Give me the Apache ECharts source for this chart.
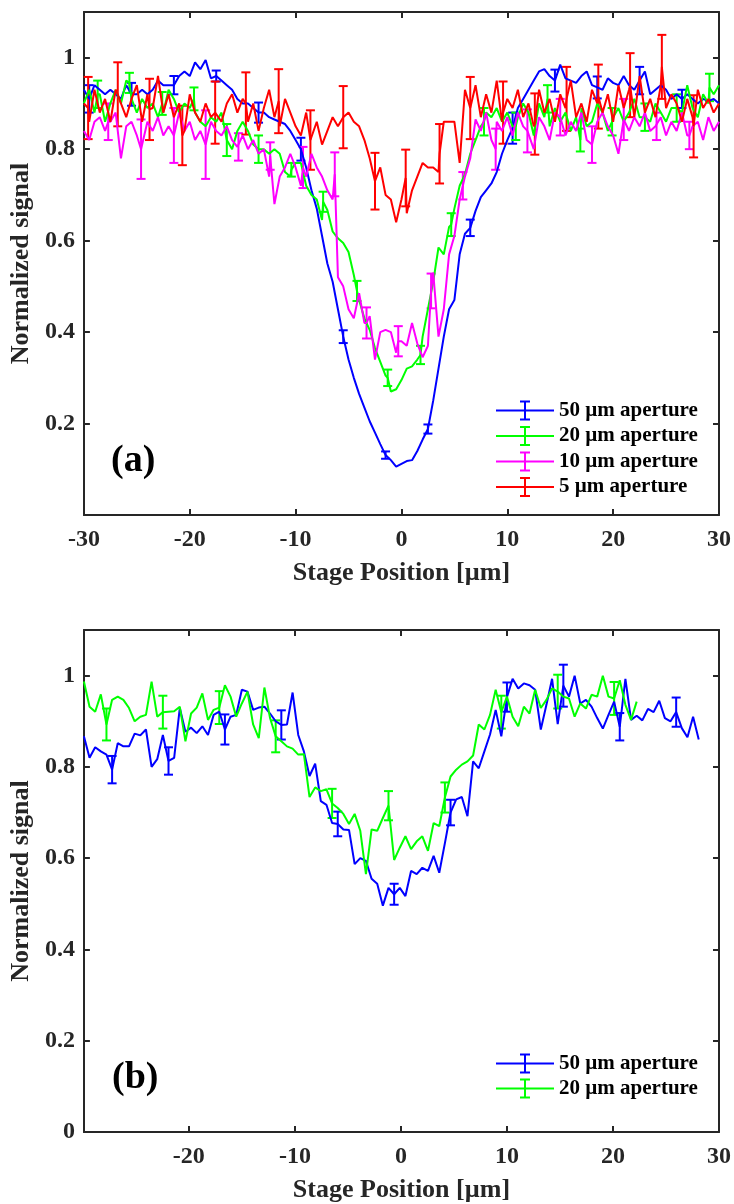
<!DOCTYPE html>
<html><head><meta charset="utf-8">
<script src="https://cdn.jsdelivr.net/npm/echarts@6/dist/echarts.min.js"></script>
<style>html,body{margin:0;padding:0;background:#fff}#c{width:734px;height:1204px}</style>
</head><body><div id="c"></div><script>
// ---------- Panel (a): samples every 0.5 µm from -30 to 30 ----------
const topX0 = -30, topStep = 0.5;
const topBlue = [
0.93,0.91,0.94,0.93,0.92,0.93,0.92,0.91,0.94,0.92,
0.92,0.93,0.92,0.93,0.95,0.94,0.94,0.94,0.96,0.97,
0.96,0.99,0.975,0.995,0.955,0.96,0.95,0.94,0.93,0.91,
0.90,0.90,0.89,0.88,0.88,0.87,0.865,0.86,0.855,0.84,
0.82,0.80,0.76,0.71,0.67,0.61,0.55,0.51,0.45,0.39,
0.34,0.30,0.265,0.235,0.205,0.18,0.155,0.131,0.12,0.106,
0.112,0.118,0.12,0.14,0.165,0.188,0.25,0.32,0.39,0.45,
0.47,0.57,0.615,0.628,0.665,0.695,0.71,0.725,0.75,0.79,
0.82,0.846,0.89,0.91,0.93,0.95,0.97,0.975,0.96,0.95,
0.985,0.955,0.95,0.945,0.96,0.97,0.94,0.935,0.93,0.955,
0.945,0.94,0.96,0.94,0.93,0.95,0.97,0.92,0.93,0.94,
0.93,0.91,0.92,0.91,0.92,0.91,0.90,0.91,0.905,0.91,
0.90];
const topGreen = [
0.90,0.93,0.88,0.92,0.86,0.90,0.93,0.90,0.95,0.91,
0.88,0.91,0.89,0.90,0.87,0.88,0.93,0.91,0.88,0.90,
0.89,0.88,0.86,0.85,0.87,0.86,0.88,0.83,0.80,0.84,
0.86,0.84,0.81,0.82,0.80,0.79,0.80,0.79,0.75,0.74,
0.77,0.77,0.72,0.70,0.69,0.645,0.667,0.62,0.605,0.595,
0.575,0.525,0.47,0.43,0.405,0.365,0.335,0.305,0.27,0.275,
0.295,0.32,0.325,0.34,0.39,0.45,0.51,0.585,0.57,0.63,
0.67,0.72,0.745,0.79,0.82,0.85,0.88,0.87,0.89,0.86,
0.88,0.85,0.87,0.90,0.88,0.83,0.90,0.87,0.85,0.89,
0.86,0.88,0.84,0.87,0.89,0.85,0.86,0.90,0.88,0.84,
0.87,0.89,0.86,0.88,0.91,0.87,0.89,0.86,0.90,0.88,
0.86,0.89,0.91,0.88,0.94,0.89,0.87,0.92,0.90,0.92,
0.94];
const topMagenta = [
0.84,0.82,0.86,0.87,0.84,0.86,0.88,0.78,0.85,0.86,
0.83,0.80,0.86,0.84,0.87,0.83,0.85,0.83,0.88,0.84,
0.86,0.82,0.84,0.81,0.86,0.84,0.83,0.85,0.82,0.805,
0.83,0.80,0.82,0.79,0.80,0.74,0.68,0.74,0.76,0.79,
0.76,0.72,0.74,0.79,0.76,0.74,0.71,0.69,0.52,0.50,
0.45,0.43,0.485,0.42,0.435,0.34,0.40,0.405,0.40,0.355,
0.38,0.37,0.42,0.375,0.345,0.37,0.53,0.39,0.45,0.57,
0.61,0.69,0.74,0.78,0.865,0.84,0.88,0.82,0.86,0.84,
0.87,0.83,0.88,0.85,0.84,0.80,0.87,0.85,0.82,0.88,
0.87,0.83,0.86,0.84,0.88,0.82,0.81,0.86,0.88,0.85,
0.83,0.79,0.865,0.84,0.87,0.85,0.88,0.84,0.85,0.87,
0.83,0.86,0.84,0.88,0.83,0.85,0.86,0.82,0.87,0.84,
0.86];
const topRed = [
0.90,0.86,0.93,0.88,0.91,0.86,0.93,0.90,0.87,0.91,
0.94,0.86,0.92,0.89,0.96,0.88,0.92,0.87,0.90,0.84,
0.92,0.88,0.86,0.90,0.87,0.88,0.86,0.90,0.92,0.88,
0.91,0.86,0.90,0.84,0.89,0.93,0.87,0.85,0.91,0.88,
0.85,0.83,0.88,0.82,0.86,0.81,0.84,0.87,0.85,0.86,
0.88,0.86,0.85,0.82,0.78,0.74,0.76,0.70,0.69,0.64,
0.69,0.66,0.71,0.74,0.77,0.76,0.76,0.75,0.86,0.86,
0.86,0.77,0.93,0.89,0.94,0.87,0.92,0.88,0.95,0.86,
0.91,0.89,0.93,0.87,0.90,0.85,0.93,0.88,0.91,0.86,
0.92,0.89,0.95,0.87,0.90,0.86,0.93,0.90,0.88,0.92,
0.86,0.94,0.89,0.93,0.87,0.96,0.88,0.91,0.87,0.94,
0.89,0.92,0.90,0.86,0.91,0.87,0.93,0.89,0.91,0.88,
0.90];
// error bars of panel (a): position, value, half-length
const topBlueErrX = [-29.5,-25.5,-21.5,-17.5,-13.5,-9.5,-5.5,-1.5,2.5,6.5,10.5,14.5,18.5,22.5,26.5];
const topBlueErrY = [0.91,0.92,0.94,0.96,0.88,0.80,0.39,0.131,0.188,0.628,0.846,0.95,0.935,0.95,0.91];
const topBlueErrH = [0.03,0.025,0.02,0.012,0.022,0.025,0.014,0.008,0.01,0.018,0.034,0.024,0.024,0.03,0.02];
const topGreenErrX = [-28.7,-25.7,-22.6,-19.6,-16.5,-13.5,-10.4,-7.4,-4.2,-1.3,1.8,4.7,7.8,10.8,13.8,16.9,19.9,23.0,26.0,29.1];
const topGreenErrY = [0.92,0.945,0.90,0.91,0.82,0.80,0.755,0.685,0.49,0.30,0.35,0.635,0.86,0.85,0.91,0.82,0.86,0.87,0.89,0.935];
const topGreenErrH = [0.03,0.022,0.025,0.025,0.035,0.03,0.015,0.022,0.022,0.018,0.02,0.025,0.03,0.03,0.03,0.025,0.03,0.03,0.03,0.03];
const topMagentaErrX = [-27.7,-24.6,-21.5,-18.5,-15.4,-12.4,-9.3,-6.3,-3.3,-0.3,2.8,5.8,8.9,11.9,15.0,18.0,21.0,24.1,27.2];
const topMagentaErrY = [0.86,0.80,0.83,0.81,0.805,0.785,0.76,0.745,0.42,0.38,0.49,0.72,0.80,0.84,0.87,0.81,0.865,0.85,0.83];
const topMagentaErrH = [0.04,0.065,0.06,0.075,0.03,0.03,0.045,0.048,0.034,0.033,0.038,0.03,0.045,0.047,0.04,0.04,0.045,0.03,0.03];
const topRedErrX = [-29.6,-26.8,-23.8,-20.7,-17.6,-14.7,-11.6,-8.6,-5.5,-2.5,0.4,3.6,6.5,9.6,12.6,15.6,18.6,21.6,24.6,27.6];
const topRedErrY = [0.89,0.92,0.887,0.83,0.88,0.90,0.905,0.82,0.87,0.73,0.737,0.79,0.89,0.88,0.855,0.91,0.915,0.94,0.98,0.85];
const topRedErrH = [0.068,0.07,0.067,0.065,0.068,0.068,0.07,0.065,0.068,0.062,0.062,0.065,0.068,0.068,0.067,0.07,0.07,0.07,0.07,0.068];

// ---------- Panel (b): samples every 0.532 µm from -29.9 ----------
const botX0 = -29.9, botStep = 0.532;
const botBlue = [
0.867,0.82,0.843,0.834,0.827,0.794,0.852,0.845,0.845,0.873,
0.869,0.882,0.80,0.817,0.87,0.813,0.82,0.929,0.877,0.886,
0.874,0.889,0.87,0.914,0.921,0.882,0.91,0.914,0.969,0.965,
0.925,0.93,0.932,0.917,0.90,0.892,0.893,0.963,0.87,0.834,
0.78,0.807,0.725,0.717,0.677,0.675,0.663,0.662,0.587,0.60,
0.594,0.555,0.544,0.496,0.535,0.521,0.535,0.517,0.572,0.565,
0.579,0.572,0.605,0.568,0.633,0.70,0.729,0.734,0.692,0.812,
0.797,0.834,0.871,0.925,0.867,0.953,0.993,0.972,0.983,0.979,
0.969,0.882,0.936,0.993,0.894,0.978,0.954,1.0,0.939,0.947,
0.932,0.907,0.884,0.914,0.943,0.888,0.993,0.903,0.912,0.902,
0.927,0.92,0.945,0.907,0.90,0.92,0.885,0.865,0.91,0.86];
const botGreen = [
0.987,0.932,0.921,0.959,0.893,0.947,0.954,0.947,0.929,0.90,
0.91,0.914,0.987,0.91,0.92,0.921,0.922,0.932,0.856,0.917,
0.93,0.961,0.903,0.925,0.93,0.979,0.954,0.91,0.939,0.965,
0.893,0.863,0.974,0.907,0.867,0.856,0.845,0.84,0.827,0.828,
0.734,0.755,0.747,0.751,0.72,0.71,0.697,0.675,0.697,0.66,
0.565,0.663,0.66,0.688,0.715,0.596,0.623,0.648,0.62,0.637,
0.648,0.616,0.677,0.67,0.733,0.779,0.794,0.805,0.812,0.825,
0.893,0.882,0.914,0.969,0.92,0.954,0.91,0.889,0.932,0.917,
0.969,0.929,0.947,0.972,0.965,0.954,0.95,0.91,0.939,0.928,
0.958,0.954,1.0,0.954,0.95,0.99,0.936,0.903,0.943];
const botBlueErrIdx = [5,15,25,35,45,55,65,75,85,95,105];
const botBlueErrH = [0.03,0.03,0.033,0.032,0.027,0.023,0.028,0.032,0.046,0.03,0.032];
const botGreenErrIdx = [4,14,24,34,44,54,64,74,84,94];
const botGreenErrH = [0.035,0.036,0.036,0.035,0.032,0.032,0.033,0.036,0.037,0.036];

const topLegend = ['50 µm aperture','20 µm aperture','10 µm aperture','5 µm aperture'];
const botLegend = ['50 µm aperture','20 µm aperture'];
const xTitle = 'Stage Position [µm]';
const yTitle = 'Normalized signal';

// ---------- build ----------
const FONT = "'Liberation Serif','Times New Roman',serif";
const AX = '#262626';
const C = {blue:'#0000ff', green:'#00ff00', magenta:'#ff00ff', red:'#ff0000'};

function topLine(vals, ex, ey){
  const pts = vals.map((v,i)=>[topX0 + topStep*i, v]);
  ex.forEach((x,k)=>{
    const j = pts.findIndex(p=>Math.abs(p[0]-x)<1e-6);
    if (j>=0) pts[j][1] = ey[k]; else pts.push([x, ey[k]]);
  });
  pts.sort((a,b)=>a[0]-b[0]);
  return pts;
}
function topErr(ex, ey, eh){ return ex.map((x,k)=>[x, ey[k], eh[k]]); }
function botLine(vals){ return vals.map((v,i)=>[botX0 + botStep*i, v]); }
function botErr(vals, idx, eh){ return idx.map((j,k)=>[botX0 + botStep*j, vals[j], eh[k]]); }

function ebRender(color){
  return function(params, api){
    const x = api.value(0), y = api.value(1), h = api.value(2);
    const a = api.coord([x, y + h]), b = api.coord([x, y - h]);
    const cw = 4.5;
    const st = {stroke: color, lineWidth: 2, fill: null};
    return {type:'group', children:[
      {type:'line', shape:{x1:a[0], y1:a[1], x2:b[0], y2:b[1]}, style:st},
      {type:'line', shape:{x1:a[0]-cw, y1:a[1], x2:a[0]+cw, y2:a[1]}, style:st},
      {type:'line', shape:{x1:b[0]-cw, y1:b[1], x2:b[0]+cw, y2:b[1]}, style:st}
    ]};
  };
}
function lineS(name, color, data, xi, yi){
  return {type:'line', name, data, xAxisIndex:xi, yAxisIndex:yi, showSymbol:false, symbol:'none',
    lineStyle:{color, width:2}, itemStyle:{color}, color, animation:false, silent:true, clip:true};
}
function errS(color, data, xi, yi){
  return {type:'custom', data, xAxisIndex:xi, yAxisIndex:yi, renderItem: ebRender(color),
    encode:{x:0, y:1}, animation:false, silent:true, itemStyle:{color}};
}

const lblFont = {fontFamily:FONT, fontWeight:'bold', fontSize:24, color:AX};
const nameFont = {fontFamily:FONT, fontWeight:'bold', fontSize:26, color:AX};
const axLine = {show:true, onZero:false, lineStyle:{color:AX, width:2}};
const axTick = {show:true, inside:true, length:6, lineStyle:{color:AX, width:2}};

function xAx(grid, pos, min, max, interval, withLabels){
  const o = {type:'value', gridIndex:grid, position:pos, min, max,
    axisLine:axLine, axisTick:axTick, splitLine:{show:false},
    axisLabel: withLabels ? Object.assign({margin:13, formatter: v => (Math.abs(v - Math.round(v/10)*10) < 1e-6 ? String(Math.round(v)) : '')}, lblFont) : {show:false}};
  if (interval) o.interval = interval; else o.splitNumber = 6;
  if (withLabels){ o.name = xTitle; o.nameLocation='middle'; o.nameGap=45; o.nameTextStyle=nameFont; }
  return o;
}
function yAx(grid, pos, hideZero, withLabels){
  const o = {type:'value', gridIndex:grid, position:pos, min:0, max:1.1, interval:0.2,
    axisLine:axLine, axisTick:axTick, splitLine:{show:false},
    axisLabel: withLabels ? Object.assign({margin:9, showMaxLabel:false,
      formatter: v => { const r = Math.round(v*10)/10; if (r > 1.05) return ''; if (hideZero && r === 0) return ''; return String(r); }}, lblFont) : {show:false}};
  if (withLabels){ o.name = yTitle; o.nameLocation='middle'; o.nameGap=47; o.nameTextStyle=nameFont; }
  return o;
}
const ebIcon = 'path://M0,9h58v2h-58z M28,0h2v20h-2z M24,0h10v2h-10z M24,18h10v2h-10z';
const legTxt = {fontFamily:FONT, fontWeight:'bold', fontSize:21, color:'#000'};

const option = {
  animation:false,
  backgroundColor:'#fff',
  grid:[
    {left:82, top:12, width:639, height:503, show:false},
    {left:82, top:630, width:638, height:503, show:false}
  ],
  xAxis:[ xAx(0,'bottom',-30,30,10,true), xAx(0,'top',-30,30,10,false),
          xAx(1,'bottom',-29.9,30,null,true), xAx(1,'top',-29.9,30,null,false) ],
  yAxis:[ yAx(0,'left',true,true), yAx(0,'right',true,false),
          yAx(1,'left',false,true), yAx(1,'right',false,false) ],
  legend:[
    {orient:'vertical', left:496, top:400, itemWidth:58, itemHeight:20, itemGap:4.5, padding:0,
     selectedMode:false, textStyle:legTxt, itemStyle:{borderWidth:0},
     data: topLegend.map(n=>({name:n, icon:ebIcon}))},
    {orient:'vertical', left:496, top:1053, itemWidth:58, itemHeight:20, itemGap:4, padding:0,
     selectedMode:false, textStyle:legTxt, itemStyle:{borderWidth:0},
     data: botLegend.map(n=>({name:n, icon:ebIcon}))}
  ],
  graphic:[
    {type:'text', left:111, top:442, style:{text:'(a)', font:"bold 38px 'Liberation Serif'", fill:'#000'}},
    {type:'text', left:112, top:1059, style:{text:'(b)', font:"bold 38px 'Liberation Serif'", fill:'#000'}}
  ],
  series:[
    lineS(topLegend[0], C.blue, topLine(topBlue, topBlueErrX, topBlueErrY), 0, 0),
    errS(C.blue, topErr(topBlueErrX, topBlueErrY, topBlueErrH), 0, 0),
    lineS(topLegend[1], C.green, topLine(topGreen, topGreenErrX, topGreenErrY), 0, 0),
    errS(C.green, topErr(topGreenErrX, topGreenErrY, topGreenErrH), 0, 0),
    lineS(topLegend[2], C.magenta, topLine(topMagenta, topMagentaErrX, topMagentaErrY), 0, 0),
    errS(C.magenta, topErr(topMagentaErrX, topMagentaErrY, topMagentaErrH), 0, 0),
    lineS(topLegend[3], C.red, topLine(topRed, topRedErrX, topRedErrY), 0, 0),
    errS(C.red, topErr(topRedErrX, topRedErrY, topRedErrH), 0, 0),
    lineS(botLegend[0], C.blue, botLine(botBlue), 2, 2),
    errS(C.blue, botErr(botBlue, botBlueErrIdx, botBlueErrH), 2, 2),
    lineS(botLegend[1], C.green, botLine(botGreen), 2, 2),
    errS(C.green, botErr(botGreen, botGreenErrIdx, botGreenErrH), 2, 2)
  ]
};
const chart = echarts.init(document.getElementById('c'), null, {renderer:'canvas'});
chart.setOption(option);
</script></body></html>
